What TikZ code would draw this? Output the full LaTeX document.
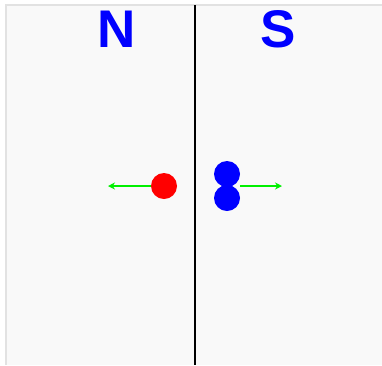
\documentclass[tikz,border=0pt]{standalone}
\usepackage{fontspec}
\setmainfont{Liberation Sans}
\usetikzlibrary{arrows.meta}

\definecolor{panelbg}{HTML}{F9F9F9}
\definecolor{panelrim}{HTML}{E2E2E2}
\definecolor{arrowgreen}{HTML}{00F000}

\tikzset{
  pole/.style={text=blue,font=\bfseries\fontsize{53}{53}\selectfont,inner sep=0pt},
  ball/.style={circle,inner sep=0pt,minimum size=26pt},
  push/.style={arrowgreen,line width=1.8pt,-{Stealth[length=7pt,width=7pt]}}
}

\begin{document}
\begin{tikzpicture}[x=1pt,y=-1pt]
        \useasboundingbox (0,0) rectangle (382,365);
        \fill[panelbg] (6,5) rectangle (382,365);
        \draw[panelrim,line width=1.2pt] (6,365) -- (6,5) -- (382,5);
        \draw[black,line width=1.6pt] (195,5) -- (195,365);
        \node[pole] (north) at (117,29) {N};
        \node[pole] (south) at (278,29) {S};
        % balls
        \node[ball,fill=red] (redball) at (164,186) {};
        \foreach \n/\y in {upper/174,lower/198} {
            \node[ball,fill=blue] (\n) at (227,\y) {};
          }
        \coordinate (lefttip) at (108,186);
        \coordinate (righttip) at (282,186);
        \coordinate (rightfoot) at (240,186);
        \draw[push] (redball.west) -- (lefttip);
        \draw[push] (rightfoot) -- (righttip);
      \end{tikzpicture}
\end{document}
